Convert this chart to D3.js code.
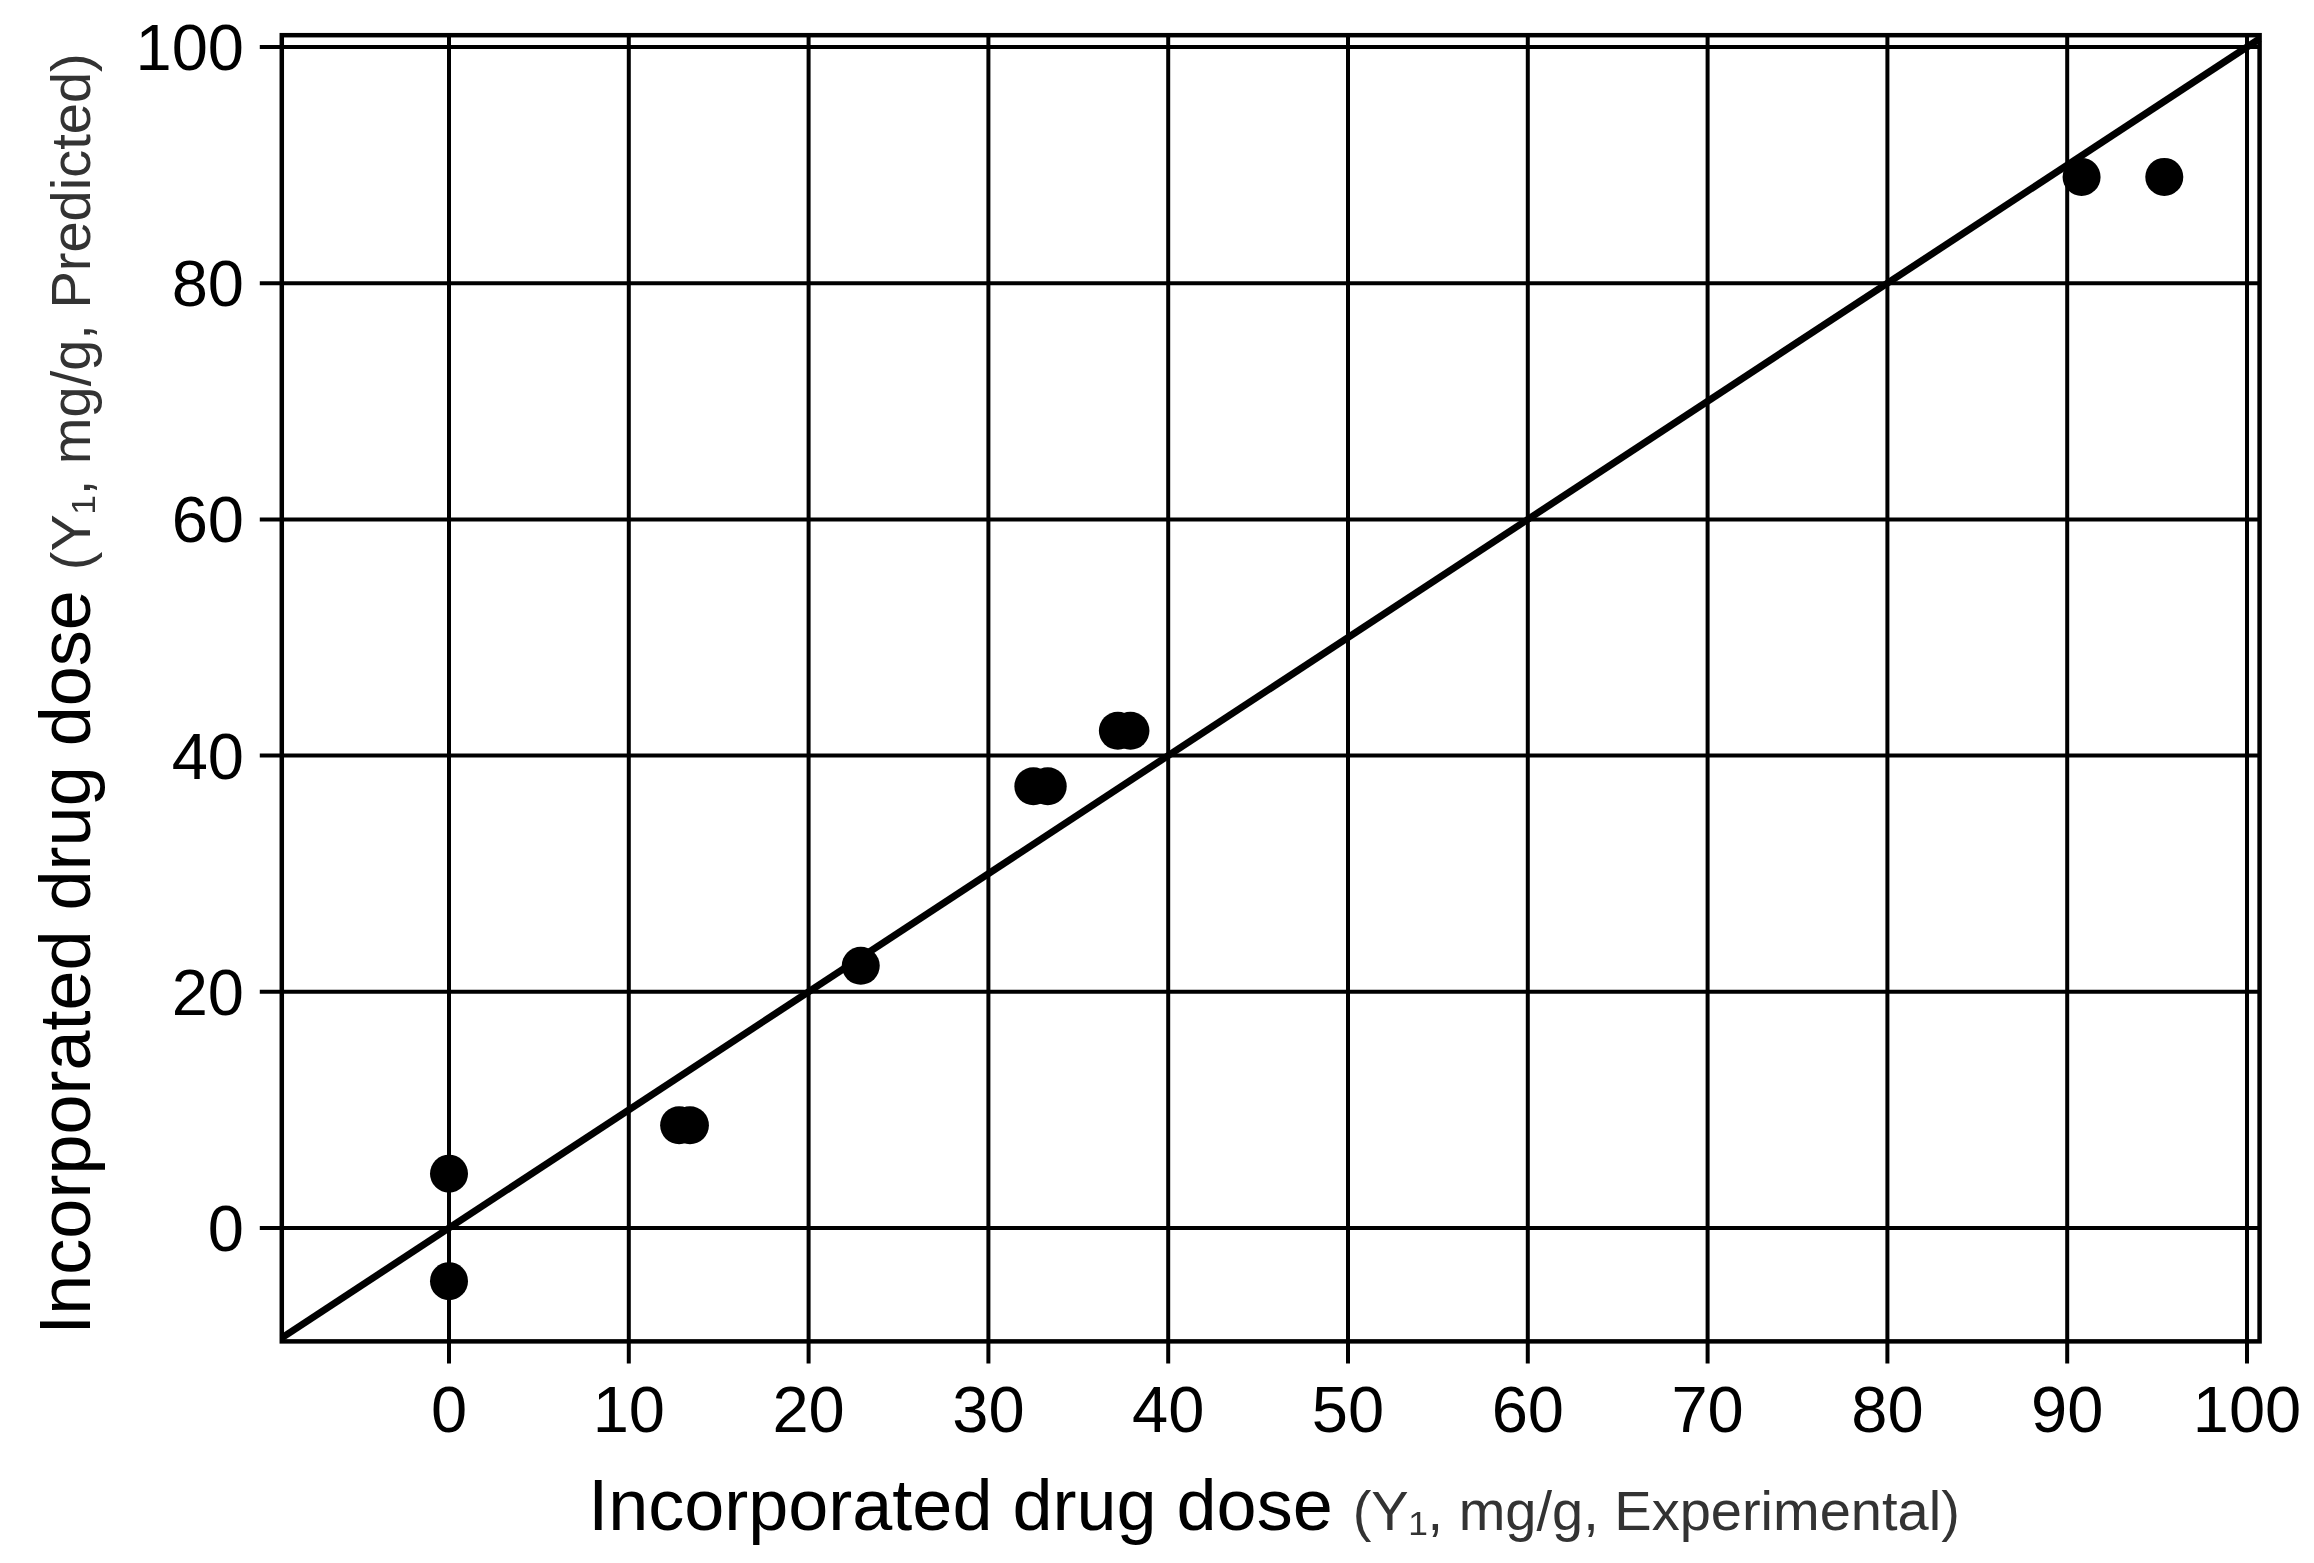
<!DOCTYPE html>
<html><head><meta charset="utf-8">
<script src="https://cdn.jsdelivr.net/npm/d3@7"></script>
<style>body{margin:0;background:#fff}</style></head>
<body><svg id="c" width="2314" height="1563"></svg>
<script>
const xTicks=[0,10,20,30,40,50,60,70,80,90,100];
const yTicks=[0,20,40,60,80,100];
const expX=[0,0,12.8,13.4,22.9,32.5,33.3,37.2,37.9,90.8,95.4];
const predY=[4.6,-4.5,8.7,8.7,22.2,37.4,37.4,42.1,42.1,89.0,89.0];
const svg=d3.select("#c");
const x=d3.scaleLinear().domain([0,100]).range([449,2247]);
const y=d3.scaleLinear().domain([0,100]).range([1228,47]);
const xmin=-9.3,xmax=100.7,ymin=-9.6,ymax=101;
const g=svg.append("g");
g.selectAll(".vx").data(xTicks).enter().append("line")
 .attr("x1",d=>x(d)).attr("x2",d=>x(d)).attr("y1",y(ymax)).attr("y2",y(ymin)+22)
 .attr("stroke","#000").attr("stroke-width",4);
g.selectAll(".hy").data(yTicks).enter().append("line")
 .attr("y1",d=>y(d)).attr("y2",d=>y(d)).attr("x1",x(xmin)-22).attr("x2",x(xmax))
 .attr("stroke","#000").attr("stroke-width",4);
g.append("rect").attr("x",x(xmin)).attr("y",y(ymax)).attr("width",x(xmax)-x(xmin)).attr("height",y(ymin)-y(ymax))
 .attr("fill","none").attr("stroke","#000").attr("stroke-width",4.5);
g.append("line").attr("x1",x(xmin)).attr("y1",y(xmin)).attr("x2",x(xmax)).attr("y2",y(xmax))
 .attr("stroke","#000").attr("stroke-width",7);
g.selectAll("circle").data(expX).enter().append("circle")
 .attr("cx",d=>x(d)).attr("cy",(d,i)=>y(predY[i])).attr("r",19).attr("fill","#000");
const font="Liberation Sans, Arial, sans-serif";
g.selectAll(".xl").data(xTicks).enter().append("text")
 .attr("x",d=>x(d)).attr("y",1432).attr("text-anchor","middle")
 .attr("font-family",font).attr("font-size",65).text(d=>d);
g.selectAll(".yl").data(yTicks).enter().append("text")
 .attr("x",244).attr("y",d=>y(d)+23).attr("text-anchor","end")
 .attr("font-family",font).attr("font-size",65).text(d=>d);
const xt=svg.append("text").attr("x",1274).attr("y",1530).attr("text-anchor","middle").attr("font-family",font);
xt.append("tspan").attr("font-size",72).text("Incorporated drug dose ");
xt.append("tspan").attr("font-size",56).attr("fill","#333").text("(Y₁, mg/g, Experimental)");
const yt=svg.append("text").attr("transform","translate(90,694) rotate(-90)").attr("text-anchor","middle").attr("font-family",font);
yt.append("tspan").attr("font-size",72).text("Incorporated drug dose ");
yt.append("tspan").attr("font-size",56).attr("fill","#333").text("(Y₁, mg/g, Predicted)");
</script></body></html>
